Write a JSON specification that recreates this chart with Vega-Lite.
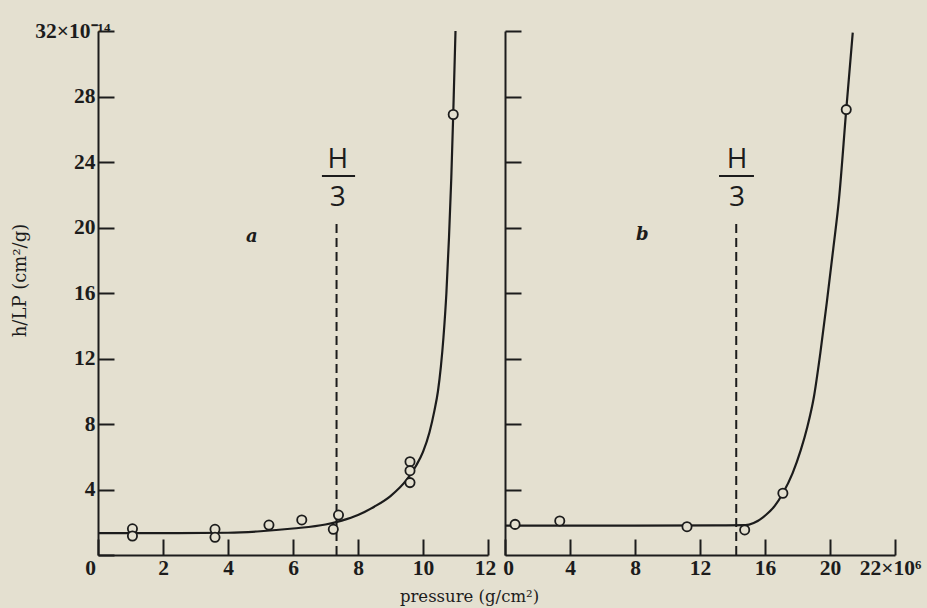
{
  "$schema": "https://vega.github.io/schema/vega-lite/v6.json",
  "width": 797,
  "height": 524,
  "autosize": {"type": "none"},
  "padding": {"left": 98, "top": 31, "right": 32, "bottom": 53},
  "background": "#e4e0d0",
  "config": {
    "view": {"stroke": null},
    "axis": {
      "grid": false,
      "domainColor": "#1c1c1c",
      "domainWidth": 2,
      "tickColor": "#1c1c1c",
      "tickWidth": 2,
      "tickSize": -16,
      "labelFont": "Liberation Serif",
      "labelFontSize": 21.5,
      "labelFontWeight": "bold",
      "labelColor": "#1c1c1c",
      "labelFlush": false,
      "labelOverlap": false,
      "titleFont": "DejaVu Serif",
      "titleColor": "#1c1c1c",
      "titleFontWeight": "normal"
    }
  },
  "datasets": {
    "curveA": [
      {"p": 0, "v": 1.33}, {"p": 2, "v": 1.33}, {"p": 4, "v": 1.36}, {"p": 5, "v": 1.45},
      {"p": 6, "v": 1.62}, {"p": 7, "v": 1.86}, {"p": 7.5, "v": 2.1}, {"p": 8, "v": 2.44},
      {"p": 8.5, "v": 2.95}, {"p": 9, "v": 3.6}, {"p": 9.5, "v": 4.6}, {"p": 9.8, "v": 5.5},
      {"p": 10, "v": 6.3}, {"p": 10.2, "v": 7.5}, {"p": 10.35, "v": 8.8}, {"p": 10.46, "v": 10.0},
      {"p": 10.55, "v": 11.5}, {"p": 10.63, "v": 13.3}, {"p": 10.72, "v": 16}, {"p": 10.8, "v": 19.4},
      {"p": 10.87, "v": 23}, {"p": 10.93, "v": 26.9}, {"p": 11.0, "v": 32}
    ],
    "pointsA": [
      {"p": 1.06, "v": 1.6}, {"p": 1.06, "v": 1.16}, {"p": 3.6, "v": 1.57}, {"p": 3.6, "v": 1.08},
      {"p": 5.26, "v": 1.83}, {"p": 6.27, "v": 2.14}, {"p": 7.24, "v": 1.57}, {"p": 7.4, "v": 2.44},
      {"p": 9.6, "v": 5.7}, {"p": 9.6, "v": 5.15}, {"p": 9.6, "v": 4.42}, {"p": 10.93, "v": 26.9}
    ],
    "curveB": [
      {"p": 0, "v": 1.79}, {"p": 8, "v": 1.8}, {"p": 14.8, "v": 1.82}, {"p": 15.3, "v": 1.95},
      {"p": 16.05, "v": 2.44}, {"p": 16.6, "v": 3.0}, {"p": 17.1, "v": 3.77}, {"p": 17.7, "v": 5.0},
      {"p": 18.2, "v": 6.4}, {"p": 18.6, "v": 7.8}, {"p": 19.0, "v": 9.6}, {"p": 19.4, "v": 12.3},
      {"p": 19.8, "v": 15.4}, {"p": 20.2, "v": 18.7}, {"p": 20.55, "v": 21.7},
      {"p": 21.0, "v": 27.2}, {"p": 21.4, "v": 31.9}
    ],
    "pointsB": [
      {"p": 0.62, "v": 1.87}, {"p": 3.37, "v": 2.08}, {"p": 11.2, "v": 1.73},
      {"p": 14.75, "v": 1.53}, {"p": 17.1, "v": 3.77}, {"p": 21.0, "v": 27.2}
    ],
    "dashA": [{"p": 7.34, "v": 0, "v2": 20.35}],
    "dashB": [{"p": 14.23, "v": 0, "v2": 20.45}],
    "barA": [{"p": 6.89, "p2": 7.91, "v": 23.15}],
    "barB": [{"p": 13.17, "p2": 15.32, "v": 23.15}],
    "fracA": [{"p": 7.38, "v": 23.63, "t": "H"}, {"p": 7.38, "v": 21.33, "t": "3"}],
    "fracB": [{"p": 14.28, "v": 23.63, "t": "H"}, {"p": 14.28, "v": 21.33, "t": "3"}],
    "tagA": [{"p": 4.73, "v": 19.13, "t": "a"}],
    "tagB": [{"p": 8.45, "v": 19.24, "t": "b"}]
  },
  "layer": [
    {
      "encoding": {
        "x": {
          "field": "p", "type": "quantitative",
          "scale": {"domain": [0, 12], "range": [0, 390], "nice": false, "zero": false},
          "axis": {
            "orient": "bottom",
            "values": [0, 2, 4, 6, 8, 10, 12],
            "labelPadding": 18,
            "labelOffset": {"condition": [{"test": "datum.value === 0", "value": -8}, {"test": "datum.value === 12", "value": -3}], "value": 0},
            "title": "pressure (g/cm²)",
            "titleFontSize": 16.5,
            "titleX": 371,
            "titleY": 41,
            "titleAlign": "center",
            "titleBaseline": "middle"
          }
        },
        "y": {
          "field": "v", "type": "quantitative",
          "scale": {"domain": [0, 32], "nice": false, "zero": false},
          "axis": {
            "orient": "left",
            "values": [0, 4, 8, 12, 16, 20, 24, 28, 32],
            "labelExpr": "datum.value === 0 ? '' : (datum.value === 32 ? '32×10⁻¹⁴' : datum.label)",
            "labelPadding": {"condition": {"test": "datum.value === 32", "value": 4}, "value": 19},
            "title": "h/LP (cm²/g)",
            "titleFontSize": 18,
            "titleX": -78,
            "titleY": 249,
            "titleAlign": "center",
            "titleBaseline": "middle"
          }
        }
      },
      "layer": [
        {
          "data": {"name": "dashA"},
          "mark": {"type": "rule", "strokeDash": [9, 5], "strokeWidth": 2, "color": "#1c1c1c"},
          "encoding": {"y2": {"field": "v2"}}
        },
        {
          "data": {"name": "barA"},
          "mark": {"type": "rule", "strokeWidth": 2, "color": "#1c1c1c"},
          "encoding": {"x2": {"field": "p2"}}
        },
        {
          "data": {"name": "curveA"},
          "mark": {"type": "line", "interpolate": "monotone", "strokeWidth": 2.2, "color": "#1c1c1c"},
          "encoding": {}
        },
        {
          "data": {"name": "pointsA"},
          "mark": {"type": "point", "shape": "circle", "size": 85, "filled": true, "fill": "#e4e0d0", "stroke": "#1c1c1c", "strokeWidth": 1.8, "opacity": 1},
          "encoding": {}
        },
        {
          "data": {"name": "fracA"},
          "mark": {"type": "text", "font": "Open Sans", "fontSize": 28, "align": "center", "baseline": "alphabetic", "color": "#1c1c1c"},
          "encoding": {"text": {"field": "t"}}
        },
        {
          "data": {"name": "tagA"},
          "mark": {"type": "text", "font": "DejaVu Serif", "fontSize": 18, "fontStyle": "italic", "fontWeight": "bold", "align": "center", "baseline": "alphabetic", "color": "#1c1c1c"},
          "encoding": {"text": {"field": "t"}}
        }
      ]
    },
    {
      "encoding": {
        "x": {
          "field": "p", "type": "quantitative",
          "scale": {"domain": [0, 24], "range": [407, 797], "nice": false, "zero": false},
          "axis": {
            "orient": "bottom",
            "values": [0, 4, 8, 12, 16, 20, 24],
            "labelExpr": "datum.value === 24 ? '22×10⁶' : datum.label",
            "labelOffset": {"condition": [{"test": "datum.value === 24", "value": -5}, {"test": "datum.value === 0", "value": 3}], "value": 0},
            "labelPadding": 18,
            "title": null
          }
        },
        "y": {
          "field": "v", "type": "quantitative",
          "scale": {"domain": [0, 32], "nice": false, "zero": false},
          "axis": {
            "orient": "left",
            "offset": -407,
            "values": [4, 8, 12, 16, 20, 24, 28, 32],
            "labels": false,
            "title": null
          }
        }
      },
      "layer": [
        {
          "data": {"name": "dashB"},
          "mark": {"type": "rule", "strokeDash": [9, 5], "strokeWidth": 2, "color": "#1c1c1c"},
          "encoding": {"y2": {"field": "v2"}}
        },
        {
          "data": {"name": "barB"},
          "mark": {"type": "rule", "strokeWidth": 2, "color": "#1c1c1c"},
          "encoding": {"x2": {"field": "p2"}}
        },
        {
          "data": {"name": "curveB"},
          "mark": {"type": "line", "interpolate": "monotone", "strokeWidth": 2.2, "color": "#1c1c1c"},
          "encoding": {}
        },
        {
          "data": {"name": "pointsB"},
          "mark": {"type": "point", "shape": "circle", "size": 85, "filled": true, "fill": "#e4e0d0", "stroke": "#1c1c1c", "strokeWidth": 1.8, "opacity": 1},
          "encoding": {}
        },
        {
          "data": {"name": "fracB"},
          "mark": {"type": "text", "font": "Open Sans", "fontSize": 28, "align": "center", "baseline": "alphabetic", "color": "#1c1c1c"},
          "encoding": {"text": {"field": "t"}}
        },
        {
          "data": {"name": "tagB"},
          "mark": {"type": "text", "font": "DejaVu Serif", "fontSize": 18, "fontStyle": "italic", "fontWeight": "bold", "align": "center", "baseline": "alphabetic", "color": "#1c1c1c"},
          "encoding": {"text": {"field": "t"}}
        }
      ]
    }
  ],
  "resolve": {
    "scale": {"x": "independent", "y": "independent"},
    "axis": {"x": "independent", "y": "independent"}
  }
}
